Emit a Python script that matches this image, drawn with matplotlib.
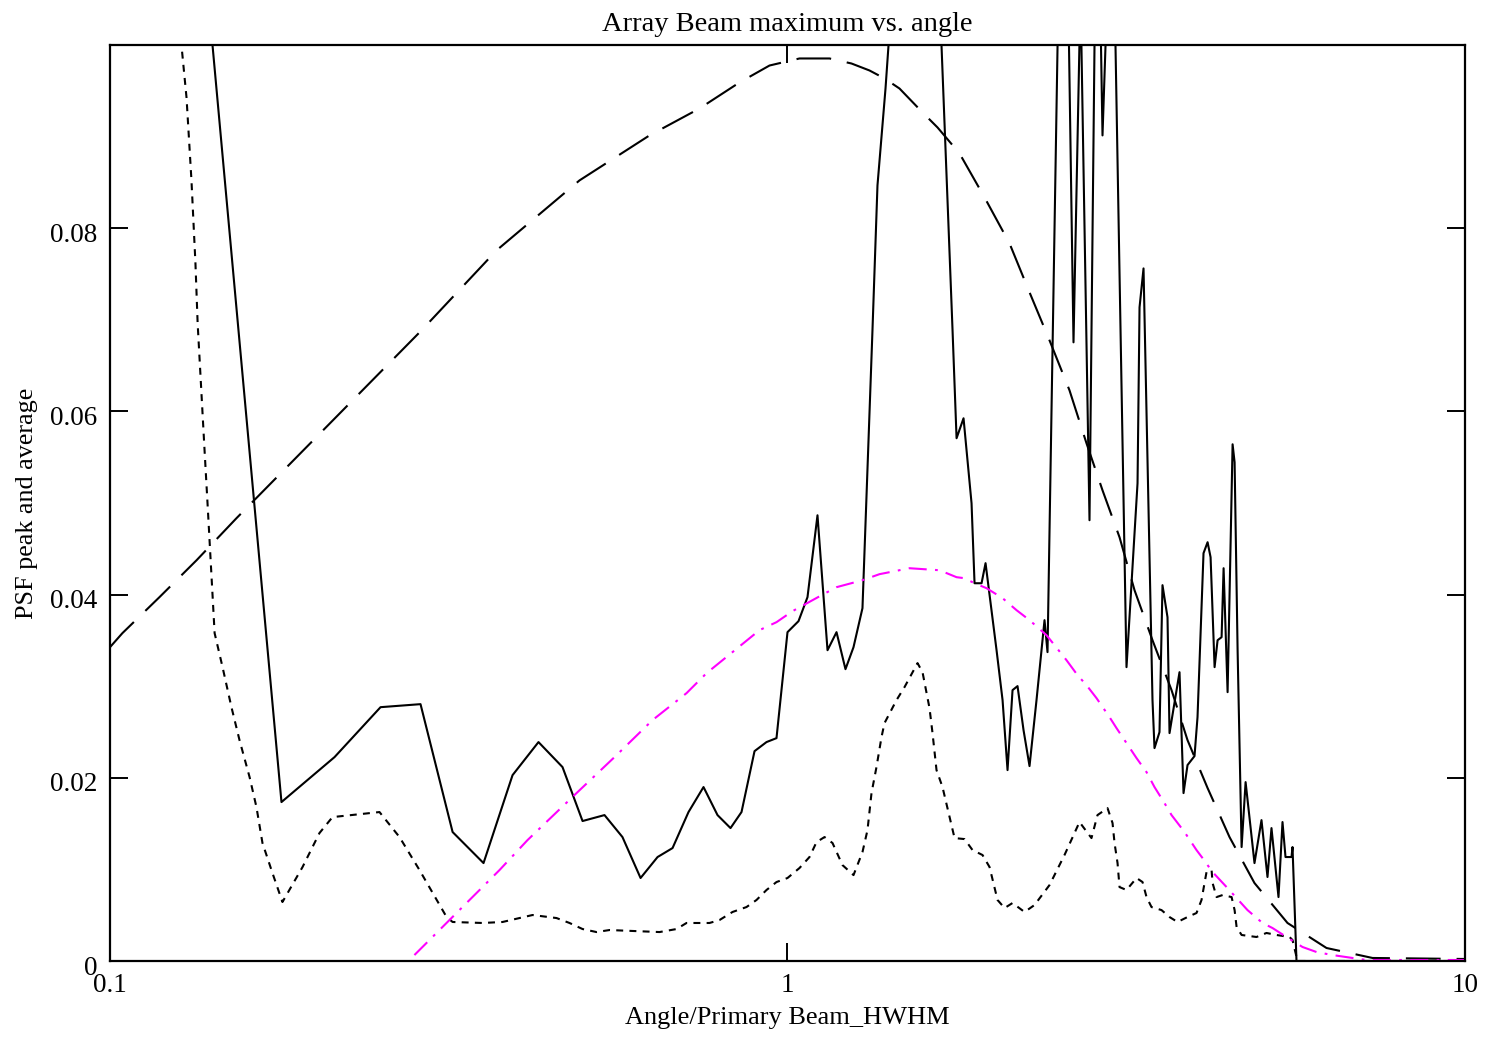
import numpy as np
import matplotlib
matplotlib.use("Agg")
import matplotlib.pyplot as plt
import matplotlib.transforms as mtransforms
from matplotlib.ticker import NullLocator, FixedLocator

plt.rcParams['font.family'] = ['Liberation Serif', 'DejaVu Serif']
plt.rcParams['lines.scale_dashes'] = False

# ---------------------------
# data
# ---------------------------
# long dashed curve
dash_x = [0.1, 0.1043, 0.1183, 0.1342, 0.1537, 0.2883, 0.3720, 0.4932, 0.6256, 0.7415,
          0.8494, 0.9407, 1.0416, 1.1535, 1.2430, 1.3213, 1.3905, 1.4632, 1.5823, 1.6650,
          1.7945, 1.9536, 2.1268, 2.2763, 2.4363, 2.6076, 2.7627, 2.9171, 3.0909, 3.2525,
          3.4573, 3.6885, 3.8944, 4.1692, 4.4918, 4.8897, 5.4703, 6.2457, 7.3028, 10.0]
dash_y = [0.03426, 0.03579, 0.03972, 0.04375, 0.04834, 0.06885, 0.07758, 0.08522, 0.09013, 0.09307,
          0.09591, 0.09776, 0.09853, 0.09853, 0.09798, 0.09722, 0.09635, 0.09525, 0.09264, 0.09100,
          0.08816, 0.08336, 0.07834, 0.07300, 0.06776, 0.06230, 0.05652, 0.05139, 0.04626, 0.04048,
          0.03502, 0.02957, 0.02411, 0.01888, 0.01353, 0.00851, 0.00415, 0.00142, 0.00033, 0.00022]

# solid curve (peak)
peak_x = [0.1342, 0.1791, 0.2145, 0.2508, 0.2873, 0.3204, 0.3559, 0.3928, 0.4290, 0.4655,
          0.4983, 0.5369, 0.5707, 0.6069, 0.6430, 0.6766, 0.7143, 0.7517, 0.7883, 0.8239,
          0.8553, 0.8940, 0.9311, 0.9633, 1.0, 1.0381, 1.0703, 1.1073, 1.1457, 1.1813,
          1.2178, 1.2515, 1.2902, 1.3348, 1.3577, 1.3953, 1.5823, 1.6878, 1.7523, 1.7764,
          1.8190, 1.8692, 1.8883, 1.9339, 1.9603, 2.0350, 2.0770, 2.1124, 2.1486, 2.1854,
          2.2305, 2.2763, 2.3310, 2.3953, 2.4198, 2.5550, 2.6433, 2.7069, 2.7910, 2.8630,
          2.9171, 3.0132, 3.1650, 3.2859, 3.3083, 3.3535, 3.4573, 3.4809, 3.5405, 3.5768,
          3.6382, 3.6633, 3.7898, 3.8418, 3.8944, 3.9880, 4.0289, 4.1119, 4.1692, 4.2118,
          4.2696, 4.3133, 4.3725, 4.4023, 4.4625, 4.5390, 4.5700, 4.6169, 4.6801, 4.7441,
          4.8897, 5.0074, 5.1106, 5.1805, 5.3053, 5.3781, 5.4332, 5.5453, 5.5642, 5.6400, 10.0]
peak_y = [0.1191, 0.01735, 0.02226, 0.02771, 0.02804, 0.01408, 0.01069, 0.02029, 0.02390, 0.02117,
          0.01528, 0.01593, 0.01353, 0.00906, 0.01135, 0.01233, 0.01626, 0.01899, 0.01593, 0.01451,
          0.01626, 0.02291, 0.02390, 0.02433, 0.03590, 0.03710, 0.03972, 0.04866, 0.03393, 0.03590,
          0.03186, 0.03426, 0.03852, 0.06885, 0.08467, 0.09525, 0.1534, 0.09995, 0.06885, 0.05707,
          0.05925, 0.04997, 0.04124, 0.04124, 0.04343, 0.03393, 0.02848, 0.02084, 0.02957, 0.03001,
          0.02520, 0.02128, 0.02848, 0.03721, 0.03372, 0.1392, 0.06754, 0.1059, 0.04812, 0.1258,
          0.09013, 0.1212, 0.03208, 0.05216, 0.07136, 0.07561, 0.02848, 0.02324, 0.02499, 0.04103,
          0.03753, 0.02488, 0.03153, 0.01833, 0.02139, 0.02237, 0.02662, 0.04452, 0.04572, 0.04408,
          0.03208, 0.03502, 0.03535, 0.04288, 0.02935, 0.05641, 0.05445, 0.03393, 0.01244, 0.01953,
          0.01069, 0.01538, 0.00917, 0.01451, 0.00698, 0.01517, 0.01135, 0.01135, 0.01244, 0.0, 0.0]

# short dashed curve (average)
avg_x = [0.1249, 0.1275, 0.1297, 0.1319, 0.1337, 0.1347, 0.1379, 0.1393, 0.1427, 0.1466,
         0.1511, 0.1553, 0.1607, 0.1645, 0.1679, 0.1737, 0.1797, 0.1924, 0.2038, 0.2130,
         0.2499, 0.2675, 0.2863, 0.3139, 0.3204, 0.3547, 0.3797, 0.4204, 0.4561, 0.4767,
         0.4983, 0.5225, 0.5461, 0.6473, 0.6859, 0.7095, 0.7671, 0.7936, 0.8295, 0.8699,
         0.9000, 0.9311, 0.9633, 1.0, 1.0416, 1.0776, 1.1036, 1.1341, 1.1653, 1.2055,
         1.2515, 1.2902, 1.3124, 1.3304, 1.3531, 1.3764, 1.3905, 1.4484, 1.4884, 1.5557,
         1.5823, 1.6204, 1.6370, 1.6594, 1.6935, 1.7643, 1.8251, 1.8754, 1.9403, 1.9870,
         2.0419, 2.0912, 2.1486, 2.2381, 2.3152, 2.4363, 2.5637, 2.6977, 2.7533, 2.8098,
         2.8678, 2.9674, 3.0183, 3.0389, 3.0700, 3.0909, 3.1650, 3.2748, 3.3422, 3.3879,
         3.4455, 3.5647, 3.6633, 3.7641, 3.8944, 4.0152, 4.0841, 4.1260, 4.1541, 4.2262,
         4.2406, 4.2987, 4.3874, 4.5235, 4.5700, 4.6012, 4.6801, 4.9230, 5.0933, 5.2694,
         5.5078, 5.5642, 5.6592, 10.0]
avg_y = [0.1136, 0.09995, 0.09427, 0.08522, 0.07616, 0.06961, 0.05576, 0.04997, 0.03579, 0.03208,
         0.02771, 0.02411, 0.02008, 0.01680, 0.01288, 0.00960, 0.00644, 0.01026, 0.01397, 0.01571,
         0.01626, 0.01353, 0.00993, 0.00480, 0.00426, 0.00415, 0.00426, 0.00502, 0.00469, 0.00415,
         0.00349, 0.00316, 0.00338, 0.00316, 0.00349, 0.00415, 0.00415, 0.00447, 0.00535, 0.00589,
         0.00666, 0.00775, 0.00862, 0.00906, 0.01015, 0.01135, 0.01298, 0.01353, 0.01288, 0.01047,
         0.00938, 0.01189, 0.01429, 0.01833, 0.02117, 0.02444, 0.02597, 0.02848, 0.02990, 0.03252,
         0.03153, 0.02760, 0.02488, 0.02084, 0.01899, 0.01342, 0.01331, 0.01211, 0.01157, 0.01026,
         0.00666, 0.00578, 0.00633, 0.00535, 0.00611, 0.00829, 0.01157, 0.01517, 0.01429, 0.01342,
         0.01593, 0.01669, 0.01506, 0.01288, 0.01069, 0.00807, 0.00775, 0.00906, 0.00862, 0.00698,
         0.00589, 0.00556, 0.00480, 0.00426, 0.00480, 0.00524, 0.00666, 0.00851, 0.00971, 0.00993,
         0.00851, 0.00698, 0.00720, 0.00698, 0.00556, 0.00371, 0.00284, 0.00262, 0.00306, 0.00284,
         0.00262, 0.00229, 0.0, 0.0]

# magenta dash-dot curve
mag_x = [0.2814, 0.3758, 0.4133, 0.4882, 0.5555, 0.6321, 0.7095, 0.7594, 0.8295, 0.9092,
         0.9633, 1.0171, 1.1225, 1.1813, 1.2902, 1.3670, 1.5138, 1.6763, 1.7764, 1.8251,
         1.8883, 1.9669, 2.0770, 2.1780, 2.2763, 2.4116, 2.4781, 2.5812, 2.6794, 2.7627,
         2.8581, 2.9877, 3.0596, 3.1650, 3.2748, 3.3879, 3.4809, 3.6011, 3.6885, 3.8549,
         4.0152, 4.0980, 4.2406, 4.4473, 4.6012, 4.7747, 5.0245, 5.1982, 5.4517, 5.7564,
         6.0371, 6.3741, 6.8225, 7.1550, 10.0]
mag_y = [0.00065, 0.00993, 0.01320, 0.01833, 0.02226, 0.02630, 0.02924, 0.03142, 0.03372, 0.03612,
         0.03699, 0.03819, 0.03993, 0.04081, 0.04157, 0.04223, 0.04288, 0.04266, 0.04190, 0.04179,
         0.04124, 0.04070, 0.03961, 0.03830, 0.03721, 0.03557, 0.03448, 0.03284, 0.03121, 0.03011,
         0.02870, 0.02662, 0.02542, 0.02379, 0.02215, 0.02062, 0.01899, 0.01724, 0.01593, 0.01408,
         0.01211, 0.01124, 0.00971, 0.00807, 0.00687, 0.00556, 0.00415, 0.00360, 0.00262, 0.00153,
         0.00098, 0.00065, 0.00033, 0.00011, 0.00011]

x_ticks = [0.1, 1, 10]
x_labels = ['0.1', '1', '10']
y_ticks = [0, 0.02, 0.04, 0.06, 0.08]
y_labels = ['0', '0.02', '0.04', '0.06', '0.08']

# ---------------------------
# plot
# ---------------------------
fig = plt.figure(figsize=(14.99, 10.41), dpi=100)
ax = fig.add_axes([0.07338, 0.07685, 0.90394, 0.87992])

lw = 1.5
ax.plot(dash_x, dash_y, color='black', lw=lw, dashes=(25, 11.5))
ax.plot(peak_x, peak_y, color='black', lw=lw)
ax.plot(avg_x, avg_y, color='black', lw=lw, dashes=(5, 4.5))
ax.plot(mag_x, mag_y, color='#ff00ff', lw=lw, dashes=(13, 6, 2, 6))

ax.set_xscale('log')
ax.set_xlim(0.1, 10)
ax.set_ylim(0, 0.1)
ax.xaxis.set_major_locator(FixedLocator(x_ticks))
ax.xaxis.set_minor_locator(NullLocator())
ax.set_xticklabels(x_labels)
ax.set_yticks(y_ticks)
ax.set_yticklabels(y_labels)

fs = 19.5
ax.tick_params(axis='both', which='major', direction='in', length=13, width=1.4,
               top=True, right=True, labelsize=fs, pad=9)
for sp in ax.spines.values():
    sp.set_linewidth(1.6)

# y tick labels sit slightly below their ticks in the original
shift = mtransforms.ScaledTranslation(0, -3 / 72, fig.dpi_scale_trans)
for lab in ax.get_yticklabels():
    lab.set_transform(lab.get_transform() + shift)

ax.set_title("Array Beam maximum vs. angle", fontsize=20.5, pad=10)
ax.set_xlabel("Angle/Primary Beam_HWHM", fontsize=19, labelpad=6)
ax.set_ylabel("PSF peak and average", fontsize=18.8, labelpad=9)

fig.savefig("out.png", dpi=100)
